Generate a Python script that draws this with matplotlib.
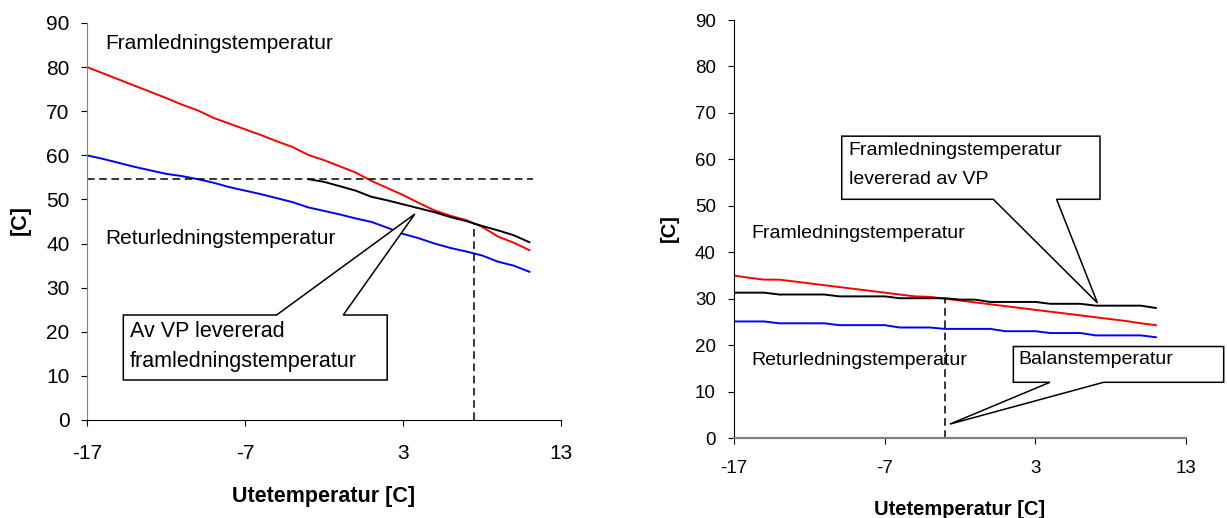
import numpy as np
import matplotlib.pyplot as plt
from matplotlib.patches import Polygon

plt.rcParams['font.family'] = ['Liberation Sans', 'DejaVu Sans']
plt.rcParams['axes.unicode_minus'] = False

# Utetemperatur [C]
ute = list(range(-17, 12))

# vänster diagram
fram_v = [80.0, 78.6, 77.2, 75.8, 74.4, 73.0, 71.5, 70.2, 68.5, 67.2, 65.9, 64.6,
          63.2, 61.9, 60.1, 58.9, 57.5, 56.1, 54.2, 52.6, 51.0, 49.2, 47.5, 46.3,
          45.3, 43.8, 41.6, 40.2, 38.5]
retur_v = [60.0, 59.2, 58.3, 57.4, 56.6, 55.8, 55.3, 54.6, 53.8, 52.8, 52.0, 51.2,
           50.3, 49.4, 48.2, 47.4, 46.6, 45.7, 44.9, 43.6, 42.2, 41.2, 40.0, 39.0,
           38.2, 37.3, 35.9, 35.0, 33.6]
vp_ute = list(range(-3, 12))
vp_v = [54.6, 54.0, 53.0, 52.0, 50.6, 49.8, 48.9, 48.0, 47.1, 46.0, 45.1, 44.0,
        43.0, 41.9, 40.3]
max_vp = 54.6       # max framledning från VP
grans_ute = 7.5     # där VP inte räcker längre
grans_temp = 44.5

# höger diagram
fram_h = [35.0, 34.5, 34.1, 34.1, 33.7, 33.3, 32.9, 32.5, 32.1, 31.7, 31.3, 30.9,
          30.5, 30.4, 30.0, 29.6, 29.2, 28.8, 28.4, 28.0, 27.6, 27.2, 26.8, 26.4,
          26.0, 25.6, 25.2, 24.7, 24.3]
vp_h = [31.3, 31.3, 31.3, 30.9, 30.9, 30.9, 30.9, 30.5, 30.5, 30.5, 30.5, 30.1,
        30.1, 30.1, 30.1, 29.8, 29.8, 29.3, 29.3, 29.3, 29.3, 28.9, 28.9, 28.9,
        28.5, 28.5, 28.5, 28.5, 28.0]
retur_h = [25.1, 25.1, 25.1, 24.7, 24.7, 24.7, 24.7, 24.3, 24.3, 24.3, 24.3, 23.8,
           23.8, 23.8, 23.5, 23.5, 23.5, 23.5, 23.0, 23.0, 23.0, 22.6, 22.6, 22.6,
           22.1, 22.1, 22.1, 22.1, 21.7]
balans_ute = -3
balans_temp = 30.0

xticks = [-17, -7, 3, 13]
yticks = list(range(0, 91, 10))


def pratbubbla(ax, x0, x1, y0, y1, bas_a, bas_b, spets, sida='top'):
    # ruta med spets, som Excels pratbubbla
    if sida == 'top':
        pts = [(x0, y1), (bas_a, y1), spets, (bas_b, y1), (x1, y1), (x1, y0), (x0, y0)]
    else:
        pts = [(x0, y0), (bas_a, y0), spets, (bas_b, y0), (x1, y0), (x1, y1), (x0, y1)]
    ax.add_patch(Polygon(pts, closed=True, facecolor='white', edgecolor='black',
                         linewidth=1.1, zorder=5, clip_on=False))


def stil(ax, fs, pad_x, pad_y, vgrå):
    ax.set_xlim(-17, 13)
    ax.set_ylim(0, 90)
    ax.set_xticks(xticks)
    ax.set_yticks(yticks)
    ax.spines['top'].set_visible(False)
    ax.spines['right'].set_visible(False)
    if vgrå:
        ax.spines['left'].set_color('#808080')
        ax.spines['bottom'].set_color('black')
    else:
        ax.spines['left'].set_color('black')
        ax.spines['bottom'].set_color('#808080')
        ax.spines['bottom'].set_linewidth(1.6)
    ax.tick_params(axis='x', direction='out', length=4, labelsize=fs, pad=pad_x)
    ax.tick_params(axis='y', direction='out', length=4, labelsize=fs, pad=pad_y)


fig = plt.figure(figsize=(12.27, 5.18), dpi=100)
ax1 = fig.add_axes([0.0709, 0.1892, 0.3863, 0.7664])
ax2 = fig.add_axes([0.5982, 0.1544, 0.3684, 0.8069])

# ---- vänster ----
stil(ax1, 15, 13, 8.5, True)
ax1.plot(ute, fram_v, color='#ff0000', lw=1.4)
ax1.plot(ute, retur_v, color='#0000ff', lw=1.4)
ax1.plot(vp_ute, vp_v, color='black', lw=1.4)
ax1.plot([-17, 11.2], [max_vp, max_vp], color='black', lw=1.1, ls=(0, (5, 3)))
ax1.plot([grans_ute, grans_ute], [0, grans_temp], color='black', lw=1.1, ls=(0, (5, 3)))

ax1.text(-15.84, 85.4, 'Framledningstemperatur', fontsize=15, va='center')
ax1.text(-15.84, 41.2, 'Returledningstemperatur', fontsize=15, va='center')
pratbubbla(ax1, -14.7, 2.0, 9.07, 23.8, -5.0, -0.78, (3.75, 46.7), 'top')
ax1.text(-14.28, 20.0, 'Av VP levererad', fontsize=15.5, va='center', zorder=6)
ax1.text(-14.28, 13.2, 'framledningstemperatur', fontsize=15.5, va='center', zorder=6)

ax1.set_xlabel('Utetemperatur [C]', fontsize=15.5, fontweight='bold')
ax1.xaxis.set_label_coords(0.5, -0.166)
ax1.text(-0.141, 0.504, '[C]', transform=ax1.transAxes, rotation=90, fontsize=15.5,
         fontweight='bold', ha='center', va='center')

# ---- höger ----
stil(ax2, 13.5, 12, 9, False)
ax2.plot(ute, fram_h, color='#ff0000', lw=1.4)
ax2.plot(ute, retur_h, color='#0000ff', lw=1.4)
ax2.plot(ute, vp_h, color='black', lw=1.4)
ax2.plot([balans_ute, balans_ute], [0, balans_temp], color='black', lw=1.1,
         ls=(0, (5, 3)))

ax2.text(-15.82, 44.1, 'Framledningstemperatur', fontsize=14, va='center')
ax2.text(-15.82, 16.6, 'Returledningstemperatur', fontsize=14, va='center')
pratbubbla(ax2, -9.85, 7.29, 51.4, 65.0, 0.21, 4.41, (7.12, 29.1), 'bottom')
ax2.text(-9.4, 62.0, 'Framledningstemperatur', fontsize=14, va='center', zorder=6)
ax2.text(-9.4, 55.7, 'levererad av VP', fontsize=14, va='center', zorder=6)
pratbubbla(ax2, 1.54, 15.5, 12.0, 19.7, 3.97, 7.53, (-2.67, 3.0), 'bottom')
ax2.text(1.9, 17.0, 'Balanstemperatur', fontsize=14, va='center', zorder=6)

ax2.set_xlabel('Utetemperatur [C]', fontsize=14.5, fontweight='bold')
ax2.xaxis.set_label_coords(0.5, -0.148)
ax2.text(-0.142, 0.502, '[C]', transform=ax2.transAxes, rotation=90, fontsize=14.5,
         fontweight='bold', ha='center', va='center')

fig.savefig('out.png', dpi=100)
